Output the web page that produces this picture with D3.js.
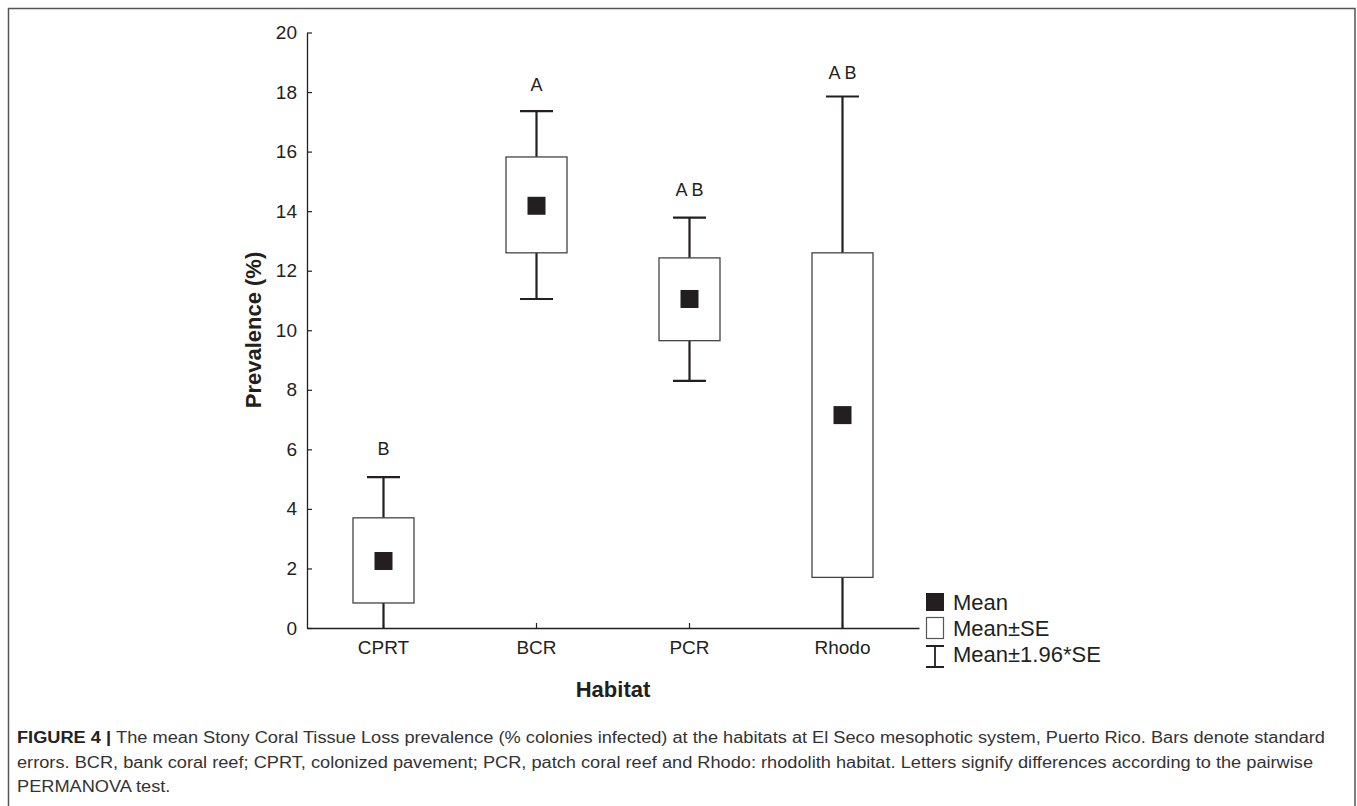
<!DOCTYPE html>
<html>
<head>
<meta charset="utf-8">
<script src="https://cdn.jsdelivr.net/npm/d3@7"></script>
<style>
  body { margin: 0; background: #fff; }
  svg { display: block; font-family: "Liberation Sans", Arial, sans-serif; }
</style>
</head>
<body>
<div id="chart"></div>
<script>
// Habitat prevalence — mean, SE box and 1.96*SE whiskers
const habitats = ['CPRT', 'BCR', 'PCR', 'Rhodo'];
const means    = [2.25, 14.18, 11.05, 7.15];
const seLow    = [0.84, 12.6, 9.65, 1.7];
const seHigh   = [3.7, 15.82, 12.43, 12.6];
const ciLow    = [-0.55, 11.05, 8.3, -3.5];
const ciHigh   = [5.07, 17.36, 13.78, 17.85];
const letters  = ['B', 'A', 'A B', 'A B'];
const letterAt = [5.8, 18.05, 14.5, 18.45];
const yTicks   = [0, 2, 4, 6, 8, 10, 12, 14, 16, 18, 20];
const legendItems = ['Mean', 'Mean\u00b1SE', 'Mean\u00b11.96*SE'];
const captionLines = [
  'The mean Stony Coral Tissue Loss prevalence (% colonies infected) at the habitats at El Seco mesophotic system, Puerto Rico. Bars denote standard',
  'errors. BCR, bank coral reef; CPRT, colonized pavement; PCR, patch coral reef and Rhodo: rhodolith habitat. Letters signify differences according to the pairwise',
  'PERMANOVA test.'
];

const W = 1357, H = 806;
const ink = '#231f20';

const svg = d3.select('#chart').append('svg')
  .attr('width', W).attr('height', H);

// outer frame (bottom runs off the page)
svg.append('path')
  .attr('d', 'M8.5,' + (H + 5) + 'V8.5H1355V' + (H + 5))
  .attr('fill', 'none').attr('stroke', '#555').attr('stroke-width', 1.5);

const x = d3.scaleBand().domain(habitats).range([307, 919]).padding(0);
const y = d3.scaleLinear().domain([0, 20]).range([628, 32.5]);

const rows = habitats.map((h, i) => ({
  h, mean: means[i], lo: seLow[i], hi: seHigh[i],
  cl: ciLow[i], ch: ciHigh[i], letter: letters[i], la: letterAt[i]
}));

const cx = d => x(d.h) + x.bandwidth() / 2;
const boxW = 61, capW = 33, sq = 18;

// clip so whiskers going below zero stop at the axis
svg.append('clipPath').attr('id', 'plotclip')
  .append('rect').attr('x', 300).attr('y', 0).attr('width', 640).attr('height', y(0));

const plot = svg.append('g').attr('clip-path', 'url(#plotclip)');

// whiskers
plot.selectAll('line.whisk').data(rows).join('line')
  .attr('class', 'whisk')
  .attr('x1', cx).attr('x2', cx)
  .attr('y1', d => y(d.ch)).attr('y2', d => y(d.cl))
  .attr('stroke', ink).attr('stroke-width', 2.2);

// caps
plot.selectAll('line.capHi').data(rows).join('line')
  .attr('class', 'capHi')
  .attr('x1', d => cx(d) - capW / 2).attr('x2', d => cx(d) + capW / 2)
  .attr('y1', d => y(d.ch)).attr('y2', d => y(d.ch))
  .attr('stroke', ink).attr('stroke-width', 2.2);
plot.selectAll('line.capLo').data(rows.filter(d => d.cl > 0)).join('line')
  .attr('class', 'capLo')
  .attr('x1', d => cx(d) - capW / 2).attr('x2', d => cx(d) + capW / 2)
  .attr('y1', d => y(d.cl)).attr('y2', d => y(d.cl))
  .attr('stroke', ink).attr('stroke-width', 2.2);

// SE boxes
plot.selectAll('rect.box').data(rows).join('rect')
  .attr('class', 'box')
  .attr('x', d => cx(d) - boxW / 2)
  .attr('y', d => y(d.hi))
  .attr('width', boxW)
  .attr('height', d => y(d.lo) - y(d.hi))
  .attr('fill', '#fff').attr('stroke', '#444').attr('stroke-width', 1.3);

// means
plot.selectAll('rect.mean').data(rows).join('rect')
  .attr('class', 'mean')
  .attr('x', d => cx(d) - sq / 2)
  .attr('y', d => y(d.mean) - sq / 2)
  .attr('width', sq).attr('height', sq)
  .attr('fill', ink);

// significance letters
svg.selectAll('text.letter').data(rows).join('text')
  .attr('class', 'letter')
  .attr('x', cx).attr('y', d => y(d.la))
  .attr('text-anchor', 'middle')
  .attr('font-size', 18).attr('fill', ink)
  .text(d => d.letter);

// y axis
const yAxis = svg.append('g').attr('transform', 'translate(307,0)')
  .call(d3.axisRight(y).tickValues(yTicks).tickSize(5).tickSizeOuter(0).tickFormat(d3.format('d')));
yAxis.select('.domain').attr('stroke', ink).attr('stroke-width', 1.3);
yAxis.selectAll('.tick line').attr('stroke', ink).attr('stroke-width', 1.2);
yAxis.selectAll('.tick text')
  .attr('x', -10).attr('text-anchor', 'end')
  .attr('font-size', 19).attr('fill', ink);
yAxis.attr('font-family', null).attr('font-size', null);

// x axis
const xAxis = svg.append('g').attr('transform', 'translate(0,628)')
  .call(d3.axisTop(x).tickSize(5).tickSizeOuter(0));
xAxis.select('.domain').attr('stroke', ink).attr('stroke-width', 1.3);
xAxis.selectAll('.tick line').attr('stroke', ink).attr('stroke-width', 1.2);
xAxis.selectAll('.tick text')
  .attr('y', 26).attr('dy', null)
  .attr('font-size', 19).attr('fill', ink);
xAxis.attr('font-family', null).attr('font-size', null);

// axis titles
svg.append('text')
  .attr('transform', 'translate(261,330) rotate(-90)')
  .attr('text-anchor', 'middle').attr('font-weight', 'bold')
  .attr('font-size', 22).attr('fill', ink)
  .text('Prevalence (%)');
svg.append('text')
  .attr('x', 613).attr('y', 697)
  .attr('text-anchor', 'middle').attr('font-weight', 'bold')
  .attr('font-size', 22).attr('fill', ink)
  .text('Habitat');

// legend
const lg = svg.append('g').attr('transform', 'translate(926,593)');
lg.append('rect').attr('x', 0).attr('y', 0).attr('width', 18).attr('height', 18).attr('fill', ink);
lg.append('rect').attr('x', 0.5).attr('y', 24.5).attr('width', 17).attr('height', 21)
  .attr('fill', '#fff').attr('stroke', '#555').attr('stroke-width', 1.2);
lg.append('path').attr('d', 'M0,53H18M9,53V74M0,74H18')
  .attr('fill', 'none').attr('stroke', ink).attr('stroke-width', 1.8);
lg.selectAll('text').data(legendItems).join('text')
  .attr('x', 27).attr('y', (d, i) => 17 + i * 26)
  .attr('font-size', 22).attr('fill', ink)
  .text(d => d);

// caption — line 1 and 2 stretched to the measured widths, last line scaled like line 1
const cap = svg.append('g').attr('font-size', 16).attr('fill', '#333');
const capY = [743, 768, 792];
const capLen = [1308, 1296];
const first = cap.append('text').attr('x', 17).attr('y', capY[0]);
first.append('tspan').attr('font-weight', 'bold').attr('fill', '#222').text('FIGURE 4 | ');
first.append('tspan').text(captionLines[0]);
const ratio = capLen[0] / first.node().getComputedTextLength();
first.attr('textLength', capLen[0]).attr('lengthAdjust', 'spacingAndGlyphs');
cap.append('text').attr('x', 17).attr('y', capY[1])
  .attr('textLength', capLen[1]).attr('lengthAdjust', 'spacingAndGlyphs')
  .text(captionLines[1]);
const last = cap.append('text').attr('x', 17).attr('y', capY[2])
  .text(captionLines[2]);
last.attr('textLength', last.node().getComputedTextLength() * ratio)
  .attr('lengthAdjust', 'spacingAndGlyphs');
</script>
</body>
</html>
